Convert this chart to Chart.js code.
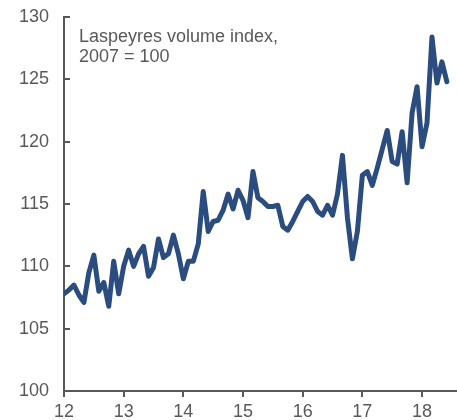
<!DOCTYPE html>
<html>
<head>
<meta charset="utf-8">
<script src="https://cdn.jsdelivr.net/npm/chart.js@4/dist/chart.umd.min.js"></script>
<style>
html,body{margin:0;padding:0;background:#fff;}
#wrap{position:relative;width:457px;height:420px;}
</style>
</head>
<body>
<div id="wrap"><canvas id="c"></canvas></div>
<script>
// Monthly Laspeyres volume index (2007 = 100), Jan 2012 onwards
const startYear = 12;
const values = [
  107.8,108.1,108.5,107.7,107.1,109.5,110.9,108.0,108.7,106.8,110.4,107.8,
  110.0,111.3,110.0,111.0,111.6,109.2,109.9,112.2,110.7,111.0,112.5,111.0,
  109.0,110.4,110.4,111.8,116.0,112.8,113.6,113.7,114.5,115.8,114.6,116.1,
  115.3,113.9,117.6,115.5,115.2,114.8,114.8,114.9,113.2,112.9,113.6,114.4,
  115.2,115.6,115.2,114.4,114.1,114.9,114.1,115.8,118.9,113.9,110.6,112.8,
  117.3,117.6,116.5,117.9,119.4,120.9,118.4,118.2,120.8,116.7,122.3,124.4,
  119.6,121.5,128.4,124.7,126.4,124.8
];
const xTickValues = [12,13,14,15,16,17,18];
const xTickLabels = ["12","13","14","15","16","17","18"];
const yTickValues = [100,105,110,115,120,125,130];
const noteLines = ["Laspeyres volume index,", "2007 = 100"];

const points = values.map((v,i)=>({x: startYear + i/12, y: v}));
const GREY = '#595959';
const FONT = "'Liberation Sans', Arial, sans-serif";

const innerTicks = {
  id:'innerTicks',
  afterDraw(chart){
    const ctx = chart.ctx, y = chart.scales.y, a = chart.chartArea;
    ctx.save();
    ctx.strokeStyle = GREY; ctx.lineWidth = 2;
    y.ticks.forEach(t=>{
      const py = Math.round(y.getPixelForValue(t.value));
      ctx.beginPath(); ctx.moveTo(a.left, py); ctx.lineTo(a.left+6, py); ctx.stroke();
    });
    ctx.fillStyle = GREY;
    ctx.font = "18px " + FONT;
    ctx.textBaseline = 'alphabetic';
    noteLines.forEach((s,i)=>ctx.fillText(s, 79, 42 + i*20.3));
    ctx.restore();
  }
};

new Chart(document.getElementById('c'), {
  type:'line',
  data:{datasets:[{
    data: points,
    borderColor:'#2B4C7E',
    borderWidth:5,
    pointRadius:0,
    tension:0,
    borderCapStyle:'round',
    borderJoinStyle:'round'
  }]},
  options:{
    responsive:true, maintainAspectRatio:false, animation:false,
    layout:{padding:{top:17,right:0,left:0,bottom:0}},
    plugins:{legend:{display:false}, tooltip:{enabled:false}},
    scales:{
      x:{
        type:'linear', min:12, max:18.586,
        afterBuildTicks(s){ s.ticks = xTickValues.map(v=>({value:v})); },
        afterFit(s){ s.height = 29; s.paddingLeft = 0; s.paddingRight = 0; },
        ticks:{color:GREY, font:{size:18, family:FONT}, padding:4, maxRotation:0,
          callback:(v)=>{const i = xTickValues.indexOf(v); return i>=0 ? xTickLabels[i] : '';}},
        grid:{drawOnChartArea:false, drawTicks:true, tickLength:6, color:GREY, lineWidth:2},
        border:{display:true, color:GREY, width:2}
      },
      y:{
        min:100, max:130,
        afterBuildTicks(s){ s.ticks = yTickValues.map(v=>({value:v})); },
        afterFit(s){ s.width = 64; s.paddingTop = 0; s.paddingBottom = 0; },
        ticks:{color:GREY, font:{size:18, family:FONT}, padding:15},
        grid:{drawOnChartArea:false, drawTicks:false},
        border:{display:true, color:GREY, width:2}
      }
    }
  },
  plugins:[innerTicks]
});
</script>
</body>
</html>
